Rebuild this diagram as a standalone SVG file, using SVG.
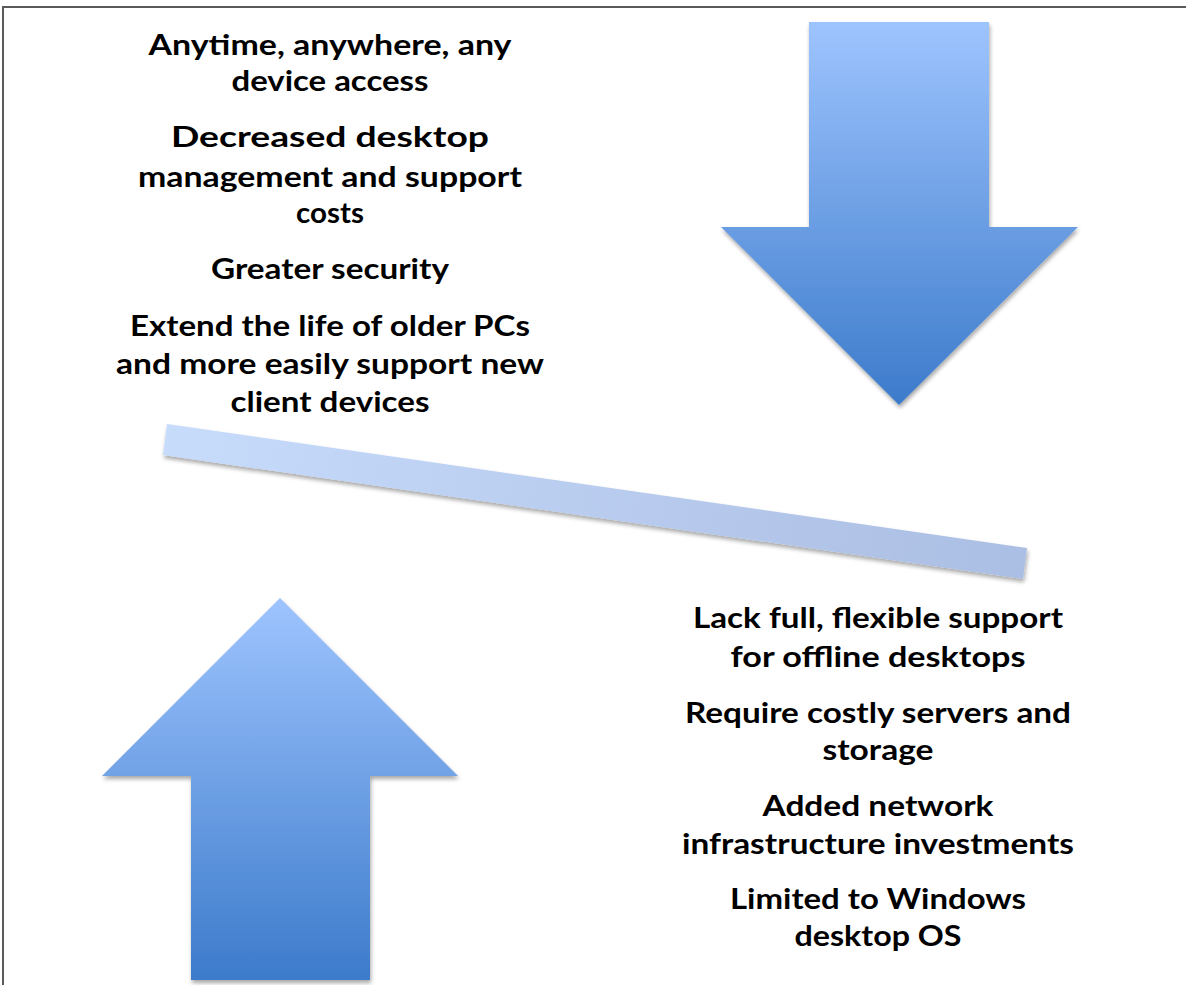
<svg xmlns="http://www.w3.org/2000/svg" width="1186" height="985" viewBox="0 0 1186 985">
  <style>
    .t { font-family: "Lato", "Noto Sans", "Liberation Sans", sans-serif; font-weight: bold; font-size: 28px; fill: #000; text-anchor: middle; }
  </style>
  <defs>
    <linearGradient id="arrowGrad" x1="0" y1="0" x2="0" y2="1">
      <stop offset="0" stop-color="#9ec4fe"/>
      <stop offset="1" stop-color="#3c7bcb"/>
    </linearGradient>
    <linearGradient id="beamGrad" gradientUnits="userSpaceOnUse" x1="165" y1="440" x2="1025" y2="563">
      <stop offset="0" stop-color="#c7dbfb"/>
      <stop offset="1" stop-color="#abbee3"/>
    </linearGradient>
    <filter id="shadow" x="-10%" y="-10%" width="120%" height="130%">
      <feGaussianBlur in="SourceAlpha" stdDeviation="2"/>
      <feOffset dx="1" dy="3" result="b"/>
      <feComponentTransfer><feFuncA type="linear" slope="0.35"/></feComponentTransfer>
      <feMerge><feMergeNode/><feMergeNode in="SourceGraphic"/></feMerge>
    </filter>
  </defs>
  <rect width="1186" height="985" fill="#fff"/>
  <path d="M3 985 V7 H1186" fill="none" stroke="#5a5a5a" stroke-width="2"/>

  <g id="down-arrow">
    <polygon points="809,22 989,22 989,227 1078,227 899,405 721,227 809,227" fill="url(#arrowGrad)" filter="url(#shadow)"/>
  </g>
  <g id="up-arrow">
    <polygon points="280,598 458,776 370,776 370,980 191,980 191,776 102,776" fill="url(#arrowGrad)" filter="url(#shadow)"/>
  </g>
  <g id="beam">
    <polygon points="167,424 1027,548 1023,579 163,455" fill="url(#beamGrad)" filter="url(#shadow)"/>
  </g>

  <g id="pros">
    <text class="t" x="330" y="55" textLength="363" lengthAdjust="spacingAndGlyphs">Anytime, anywhere, any</text>
    <text class="t" x="330" y="91" textLength="197" lengthAdjust="spacingAndGlyphs">device access</text>
    <text class="t" x="330" y="147" textLength="318" lengthAdjust="spacingAndGlyphs">Decreased desktop</text>
    <text class="t" x="330" y="187" textLength="384" lengthAdjust="spacingAndGlyphs">management and support</text>
    <text class="t" x="330" y="223" textLength="68" lengthAdjust="spacingAndGlyphs">costs</text>
    <text class="t" x="330" y="279" textLength="238" lengthAdjust="spacingAndGlyphs">Greater security</text>
    <text class="t" x="330" y="336" textLength="400" lengthAdjust="spacingAndGlyphs">Extend the life of older PCs</text>
    <text class="t" x="330" y="374" textLength="428" lengthAdjust="spacingAndGlyphs">and more easily support new</text>
    <text class="t" x="330" y="412" textLength="199" lengthAdjust="spacingAndGlyphs">client devices</text>
  </g>
  <g id="cons">
    <text class="t" x="878" y="628" textLength="370" lengthAdjust="spacingAndGlyphs">Lack full, flexible support</text>
    <text class="t" x="878" y="667" textLength="295" lengthAdjust="spacingAndGlyphs">for offline desktops</text>
    <text class="t" x="878" y="723" textLength="386" lengthAdjust="spacingAndGlyphs">Require costly servers and</text>
    <text class="t" x="878" y="760" textLength="111" lengthAdjust="spacingAndGlyphs">storage</text>
    <text class="t" x="878" y="816" textLength="231" lengthAdjust="spacingAndGlyphs">Added network</text>
    <text class="t" x="878" y="854" textLength="392" lengthAdjust="spacingAndGlyphs">infrastructure investments</text>
    <text class="t" x="878" y="909" textLength="296" lengthAdjust="spacingAndGlyphs">Limited to Windows</text>
    <text class="t" x="878" y="946" textLength="167" lengthAdjust="spacingAndGlyphs">desktop OS</text>
  </g>
  <g id="connectors"/>
</svg>
